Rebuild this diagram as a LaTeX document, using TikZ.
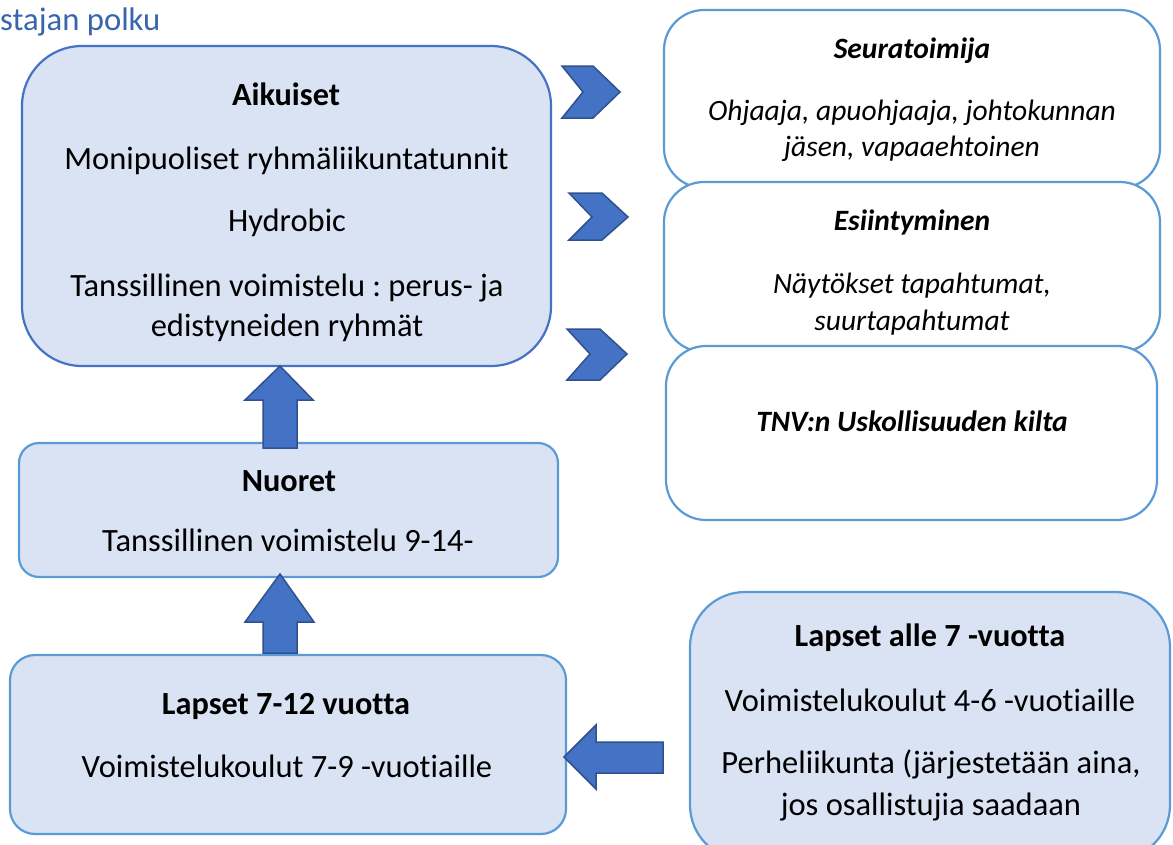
\documentclass[tikz,border=0pt]{standalone}
\usepackage{fontspec}
\setmainfont{Carlito}[Ligatures={NoCommon}]
\frenchspacing
\definecolor{boxfill}{HTML}{DAE3F3}
\definecolor{darkline}{HTML}{4472C4}
\definecolor{lightline}{HTML}{5B9BD5}
\definecolor{arrowfill}{HTML}{4472C4}
\definecolor{arrowline}{HTML}{2F528F}
\definecolor{titleblue}{HTML}{3A64AC}
\begin{document}
\begin{tikzpicture}[x=1pt,y=-1pt,
  txt/.style={anchor=base,inner sep=0pt,font=\fontsize{32.5}{38}\selectfont},
  hd/.style={txt,font=\fontsize{32.3}{38}\selectfont\bfseries},
  hdi/.style={txt,font=\fontsize{29.5}{36}\selectfont\bfseries\itshape},
  it/.style={txt,font=\fontsize{29.5}{36}\selectfont\itshape},
  bluebox/.style={draw=lightline,line width=2.2pt,fill=boxfill},
  whitebox/.style={draw=lightline,line width=2.2pt,fill=white},
  blockarrow/.style={fill=arrowfill,draw=arrowline,line width=1.5pt,line join=miter}]
\useasboundingbox (0,0) rectangle (1173,844);
\clip (0,0) rectangle (1173,844);
\fill[white] (0,0) rectangle (1173,844);

% title
\node[anchor=base west,inner sep=0pt,text=titleblue,font=\fontsize{32.7}{36}\selectfont] (title) at (0,30) {stajan polku};

% left boxes
\draw[bluebox,draw=darkline,rounded corners=60pt] (22,46) rectangle (551,366);
\draw[bluebox,rounded corners=20pt] (19,443) rectangle (558,577);
\draw[bluebox,rounded corners=25pt] (10,655) rectangle (566,834);
\draw[bluebox,rounded corners=55pt] (690,592) rectangle (1170,860);

% right boxes
\draw[whitebox,rounded corners=40pt] (664,10) rectangle (1160,188);
\draw[whitebox,rounded corners=40pt] (664,182) rectangle (1160,352);
\draw[whitebox,rounded corners=40pt] (666,346) rectangle (1157,520);

% chevrons
\draw[blockarrow] (562,66) -- (593,66) -- (620,92) -- (593,118) -- (562,118) -- (583,92) -- cycle;
\draw[blockarrow] (569,193) -- (602,193) -- (628,217) -- (602,240) -- (569,240) -- (592,217) -- cycle;
\draw[blockarrow] (567,329) -- (600,329) -- (627,354) -- (600,380) -- (567,380) -- (590,354) -- cycle;

% up arrows
\draw[blockarrow] (280,366) -- (313,400) -- (297,400) -- (297,448) -- (263,448) -- (263,400) -- (245,400) -- cycle;
\draw[blockarrow] (280,574) -- (314,622) -- (297,622) -- (297,653) -- (263,653) -- (263,622) -- (245,622) -- cycle;

% left arrow
\draw[blockarrow] (564,757) -- (596,725) -- (596,742) -- (663,742) -- (663,773) -- (596,773) -- (596,789) -- cycle;

% Aikuiset
\node[hd] (a1) at (286,105) {Aikuiset};
\node[txt] (a2) at (286.5,169) {Monipuoliset ryhmäliikuntatunnit};
\node[txt] (a3) at (287,231) {Hydrobic};
\node[txt] (a4) at (287,296) {Tanssillinen voimistelu : perus- ja};
\node[txt] (a5) at (287,336) {edistyneiden ryhmät};

% Nuoret
\node[hd] (n1) at (289,491) {Nuoret};
\node[txt] (n2) at (288,551) {Tanssillinen voimistelu 9-14-};

% Lapset 7-12
\node[hd] (l1) at (286,714) {Lapset 7-12 vuotta};
\node[txt] (l2) at (287,777) {Voimistelukoulut 7-9 -vuotiaille};

% Lapset alle 7
\node[hd] (k1) at (930,646) {Lapset alle 7 -vuotta};
\node[txt] (k2) at (930,711) {Voimistelukoulut 4-6 -vuotiaille};
\node[txt] (k3) at (931,773) {Perheliikunta (järjestetään aina,};
\node[txt] (k4) at (931,815) {jos osallistujia saadaan};

% right boxes text
\node[hdi] (s1) at (912,58) {Seuratoimija};
\node[it] (s2) at (912,120) {Ohjaaja, apuohjaaja, johtokunnan};
\node[it] (s3) at (912,156) {jäsen, vapaaehtoinen};
\node[hdi] (e1) at (912,230) {Esiintyminen};
\node[it] (e2) at (912,293) {Näytökset tapahtumat,};
\node[it] (e3) at (912,330) {suurtapahtumat};
\node[hdi] (t1) at (912,431) {TNV:n Uskollisuuden kilta};
\end{tikzpicture}
\end{document}
